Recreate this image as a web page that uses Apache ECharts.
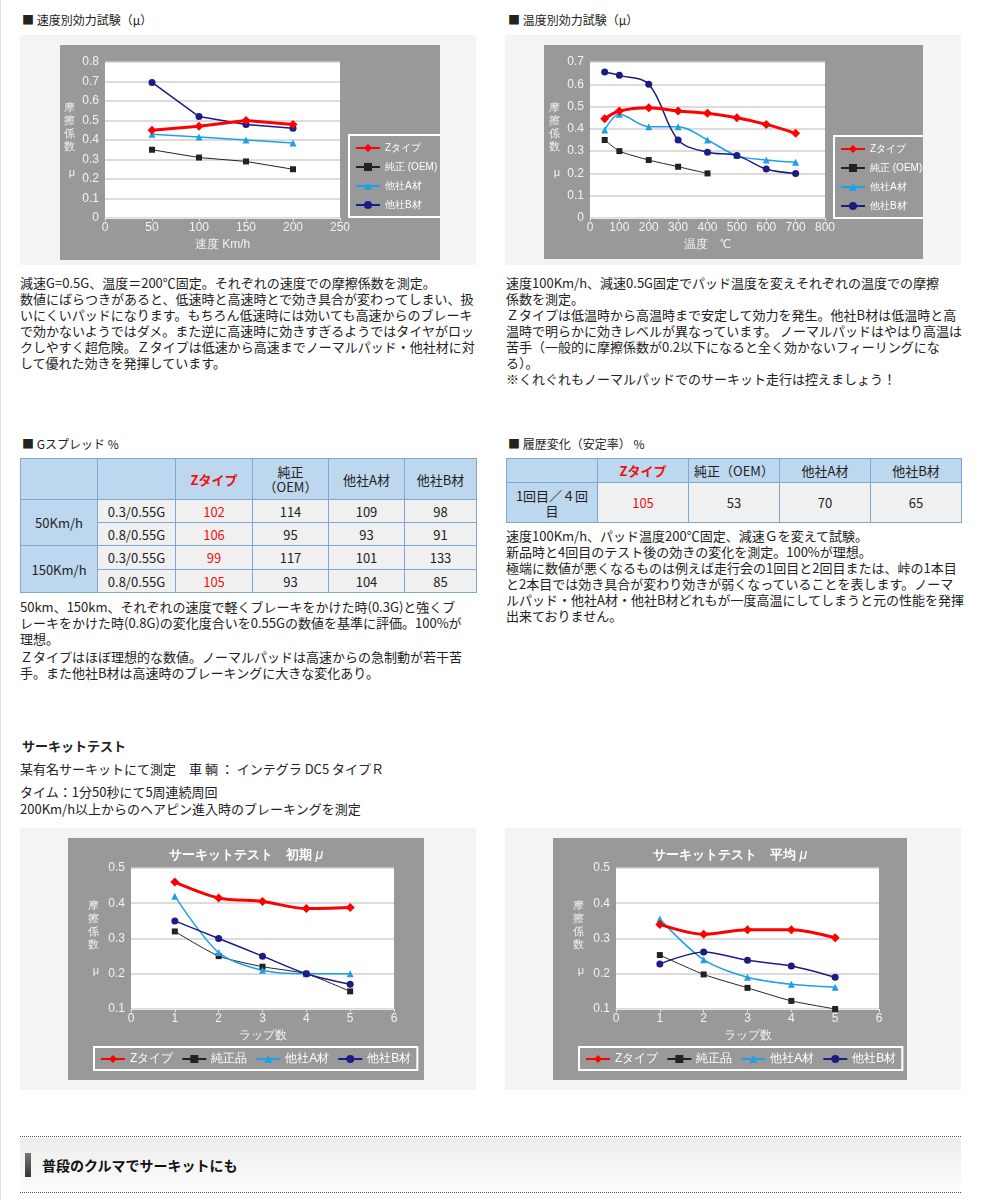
<!DOCTYPE html>
<html>
<head>
<meta charset="utf-8">
<script src="https://cdn.jsdelivr.net/npm/echarts@6/dist/echarts.min.js"></script>
<style>
  body { margin:0; width:981px; height:1200px; background:#fff; font-family:"Noto Sans CJK JP","Noto Sans",sans-serif; font-size:13px; color:#222; position:relative; overflow:hidden; }
  .abs { position:absolute; }
  .h { font-size:12px; line-height:14px; }
  .panel { background:#f4f4f4; }
  .txt { font-size:13px; line-height:16px; white-space:nowrap; }
  .chart { position:absolute; }
  table { border-collapse:collapse; position:absolute; font-size:13px; }
  td { border:1px solid #7fa7d6; text-align:center; padding:0; line-height:15px; }
  td.hd { background:#bdd7ee; }
  td.v { background:#f0f0f0; }
  .red { color:#ee1111; }
  .zt { color:#ee1111; font-weight:bold; }
</style>
</head>
<body>
<div class="abs" style="left:0;top:0;width:1px;height:1200px;background:#ddd"></div>

<div class="abs h" style="left:22px;top:13px">■ 速度別効力試験（μ）</div>
<div class="abs h" style="left:508px;top:13px">■ 温度別効力試験（μ）</div>

<div class="abs panel" style="left:20px;top:35px;width:456px;height:230px"></div>
<div class="abs panel" style="left:505px;top:35px;width:456px;height:230px"></div>
<div id="c1" class="chart" style="left:60px;top:45px;width:380px;height:215px"></div>
<div id="c2" class="chart" style="left:544px;top:45px;width:379px;height:214px"></div>

<div class="abs txt" style="left:20px;top:275px">減速G=0.5G、温度＝200℃固定。それぞれの速度での摩擦係数を測定。<br>数値にばらつきがあると、低速時と高速時とで効き具合が変わってしまい、扱<br>いにくいパッドになります。もちろん低速時には効いても高速からのブレーキ<br>で効かないようではダメ。また逆に高速時に効きすぎるようではタイヤがロッ<br>クしやすく超危険。Ｚタイプは低速から高速までノーマルパッド・他社材に対<br>して優れた効きを発揮しています。</div>
<div class="abs txt" style="left:506px;top:275px">速度100Km/h、減速0.5G固定でパッド温度を変えそれぞれの温度での摩擦<br>係数を測定。<br>Ｚタイプは低温時から高温時まで安定して効力を発生。他社B材は低温時と高<br>温時で明らかに効きレベルが異なっています。 ノーマルパッドはやはり高温は<br>苦手（一般的に摩擦係数が0.2以下になると全く効かないフィーリングにな<br>る）。<br>※くれぐれもノーマルパッドでのサーキット走行は控えましょう！</div>

<div class="abs h" style="left:22px;top:437px">■ Gスプレッド %</div>
<div class="abs h" style="left:508px;top:437px">■ 履歴変化（安定率） %</div>

<table style="left:20px;top:458px;width:457px">
  <tr style="height:41px"><td class="hd" style="width:76px"></td><td class="hd" style="width:77px"></td><td class="hd zt" style="width:76px">Zタイプ</td><td class="hd" style="width:75px">純正<br>（OEM）</td><td class="hd" style="width:75px">他社A材</td><td class="hd">他社B材</td></tr>
  <tr style="height:23px"><td class="hd" rowspan="2">50Km/h</td><td class="v">0.3/0.55G</td><td class="v red">102</td><td class="v">114</td><td class="v">109</td><td class="v">98</td></tr>
  <tr style="height:23px"><td class="v">0.8/0.55G</td><td class="v red">106</td><td class="v">95</td><td class="v">93</td><td class="v">91</td></tr>
  <tr style="height:24px"><td class="hd" rowspan="2">150Km/h</td><td class="v">0.3/0.55G</td><td class="v red">99</td><td class="v">117</td><td class="v">101</td><td class="v">133</td></tr>
  <tr style="height:23px"><td class="v">0.8/0.55G</td><td class="v red">105</td><td class="v">93</td><td class="v">104</td><td class="v">85</td></tr>
</table>

<table style="left:506px;top:458px;width:456px">
  <tr style="height:24px"><td class="hd" style="width:90px"></td><td class="hd zt" style="width:90px">Zタイプ</td><td class="hd" style="width:90px">純正（OEM）</td><td class="hd" style="width:90px">他社A材</td><td class="hd">他社B材</td></tr>
  <tr style="height:40px"><td class="hd">1回目／４回<br>目</td><td class="v red">105</td><td class="v">53</td><td class="v">70</td><td class="v">65</td></tr>
</table>

<div class="abs txt" style="left:20px;top:599px">50km、150km、それぞれの速度で軽くブレーキをかけた時(0.3G)と強くブ<br>レーキをかけた時(0.8G)の変化度合いを0.55Gの数値を基準に評価。100%が<br>理想。<br><span style="display:inline-block;margin-top:2px">Ｚタイプはほぼ理想的な数値。ノーマルパッドは高速からの急制動が若干苦</span><br>手。また他社B材は高速時のブレーキングに大きな変化あり。</div>
<div class="abs txt" style="left:506px;top:528px">速度100Km/h、パッド温度200℃固定、減速Ｇを変えて試験。<br>新品時と4回目のテスト後の効きの変化を測定。100%が理想。<br>極端に数値が悪くなるものは例えば走行会の1回目と2回目または、峠の1本目<br>と2本目では効き具合が変わり効きが弱くなっていることを表します。ノーマ<br>ルパッド・他社A材・他社B材どれもが一度高温にしてしまうと元の性能を発揮<br>出来ておりません。</div>

<div class="abs" style="left:22px;top:736px;font-weight:bold;font-size:13px">サーキットテスト</div>
<div class="abs" style="left:20px;top:759px">某有名サーキットにて測定　車 輌 ： インテグラ DC5 タイプＲ</div>
<div class="abs" style="left:20px;top:783px;line-height:17px">タイム：1分50秒にて5周連続周回<br>200Km/h以上からのヘアピン進入時のブレーキングを測定</div>

<div class="abs panel" style="left:20px;top:828px;width:456px;height:262px"></div>
<div class="abs panel" style="left:505px;top:828px;width:456px;height:262px"></div>
<div id="c3" class="chart" style="left:68px;top:838px;width:356px;height:242px"></div>
<div id="c4" class="chart" style="left:553px;top:838px;width:354px;height:242px"></div>

<div class="abs" style="left:20px;top:1136px;width:941px;border-top:1px dotted #555"></div>
<div class="abs" style="left:20px;top:1138px;width:941px;height:54px;background:linear-gradient(#ececec,#fdfdfd)"></div>
<div class="abs" style="left:20px;top:1192px;width:941px;border-top:1px dotted #555"></div>
<div class="abs" style="left:25px;top:1153px;width:6px;height:24px;background:linear-gradient(#777,#333)"></div>
<div class="abs" style="left:42px;top:1155px;font-weight:bold;font-size:14px;color:#111">普段のクルマでサーキットにも</div>

<script>
// 速度別効力試験
var speeds = [50, 100, 150, 200];
var speedZ = [0.45, 0.47, 0.50, 0.48];
var speedOEM = [0.35, 0.31, 0.29, 0.25];
var speedA = [0.43, 0.415, 0.40, 0.385];
var speedB = [0.695, 0.52, 0.48, 0.46];

// 温度別効力試験
var temps = [50, 100, 200, 300, 400, 500, 600, 700];
var tempZ = [0.445, 0.48, 0.495, 0.48, 0.47, 0.45, 0.42, 0.38];
var tempOEM = [0.35, 0.30, 0.26, 0.23, 0.20];
var tempA = [0.395, 0.465, 0.41, 0.41, 0.35, 0.28, 0.26, 0.25];
var tempB = [0.655, 0.64, 0.60, 0.35, 0.295, 0.28, 0.22, 0.20];

// サーキットテスト
var laps = [1, 2, 3, 4, 5];
var initZ = [0.46, 0.415, 0.405, 0.385, 0.388];
var initOEM = [0.32, 0.25, 0.22, 0.20, 0.15];
var initA = [0.42, 0.26, 0.21, 0.20, 0.20];
var initB = [0.35, 0.30, 0.25, 0.20, 0.17];
var avgZ = [0.34, 0.312, 0.325, 0.325, 0.302];
var avgOEM = [0.253, 0.198, 0.16, 0.123, 0.10];
var avgA = [0.355, 0.24, 0.19, 0.17, 0.162];
var avgB = [0.228, 0.262, 0.238, 0.222, 0.19];

var names1 = ['Zタイプ', '純正 (OEM)', '他社A材', '他社B材'];
var names2 = ['Zタイプ', '純正品', '他社A材', '他社B材'];

var GRAY = '#999999';
var LBL = '#f2f2f2';

function pairs(xs, ys) {
    return ys.map(function(y, i){ return [xs[i], y]; });
}

function makeSeries(names, xs, z, oem, a, b, smooth) {
    return [
        { name:names[0], type:'line', data:pairs(xs, z), smooth:smooth, symbol:'diamond', symbolSize:9,
          itemStyle:{color:'#ff0000'}, lineStyle:{color:'#ff0000', width:3}, z:5 },
        { name:names[1], type:'line', data:pairs(xs, oem), smooth:smooth ? 0.2 : false, symbol:'rect', symbolSize:6,
          itemStyle:{color:'#222'}, lineStyle:{color:'#222', width:1} },
        { name:names[2], type:'line', data:pairs(xs, a), smooth:smooth, symbol:'triangle', symbolSize:7,
          itemStyle:{color:'#1ea0e6'}, lineStyle:{color:'#1ea0e6', width:1.5} },
        { name:names[3], type:'line', data:pairs(xs, b), smooth:smooth, symbol:'circle', symbolSize:7,
          itemStyle:{color:'#1c1c84'}, lineStyle:{color:'#1c1c84', width:1.5} }
    ];
}

function yAxis(min, max, gap) {
    return {
        type:'value', min:min, max:max, interval:0.1,
        name:'摩\n擦\n係\n数\n\nμ', nameLocation:'middle', nameRotate:0, nameGap:gap,
        nameTextStyle:{color:LBL, fontSize:11, lineHeight:13},
        axisLine:{show:false}, axisTick:{show:false},
        axisLabel:{color:LBL, fontSize:12, margin:6},
        splitLine:{lineStyle:{color:'#d0d0d0', width:1.5}}
    };
}

function xAxis(min, max, interval, name) {
    return {
        type:'value', min:min, max:max, interval:interval,
        name:name, nameLocation:'middle', nameGap:20,
        nameTextStyle:{color:LBL, fontSize:12},
        axisLine:{show:true, lineStyle:{color:'#e8e8e8'}},
        axisTick:{show:true, length:3, lineStyle:{color:'#e8e8e8'}},
        axisLabel:{color:LBL, fontSize:12, margin:4},
        splitLine:{show:false}
    };
}

function sideLegend(left, top) {
    return {
        orient:'vertical', left:left, top:top,
        borderColor:'#fff', borderWidth:2, padding:[8, 4, 7, 6], itemGap:9,
        itemWidth:24, itemHeight:10,
        textStyle:{color:'#fff', fontSize:10}
    };
}

function bottomLegend() {
    return {
        orient:'horizontal', left:26, top:209,
        borderColor:'#fff', borderWidth:2, padding:[6, 6, 5, 6], itemGap:8,
        itemWidth:24, itemHeight:10,
        textStyle:{color:'#fff', fontSize:12}
    };
}

var c1 = echarts.init(document.getElementById('c1'));
c1.setOption({
    backgroundColor:GRAY, animation:false,
    grid:{left:45, top:17, width:235, height:156, show:true, backgroundColor:'#fff', borderWidth:0},
    xAxis:xAxis(0, 250, 50, '速度 Km/h'),
    yAxis:yAxis(0, 0.8, 30),
    legend:sideLegend(289, 90),
    series:makeSeries(names1, speeds, speedZ, speedOEM, speedA, speedB, false)
});

var c2 = echarts.init(document.getElementById('c2'));
c2.setOption({
    backgroundColor:GRAY, animation:false,
    grid:{left:46, top:17, width:235, height:156, show:true, backgroundColor:'#fff', borderWidth:0},
    xAxis:xAxis(0, 800, 100, '温度　℃'),
    yAxis:yAxis(0, 0.7, 30),
    legend:sideLegend(290, 91),
    series:makeSeries(names1, temps, tempZ, tempOEM, tempA, tempB, 0.35)
});

function circuit(id, title, z, oem, a, b) {
    var c = echarts.init(document.getElementById(id));
    c.setOption({
        backgroundColor:GRAY, animation:false,
        title:{text:title + ' {mu|μ}', left:'center', top:5,
               textStyle:{color:'#fff', fontSize:13, fontWeight:'bold',
                          rich:{mu:{color:'#fff', fontSize:14, fontStyle:'italic', fontWeight:'normal'}}}},
        grid:{left:63, top:30, width:263, height:141, show:true, backgroundColor:'#fff', borderWidth:0},
        xAxis:xAxis(0, 6, 1, 'ラップ数'),
        yAxis:yAxis(0.1, 0.5, 32),
        legend:bottomLegend(),
        series:makeSeries(names2, laps, z, oem, a, b, 0.3)
    });
    return c;
}
var c3 = circuit('c3', 'サーキットテスト　初期', initZ, initOEM, initA, initB);
var c4 = circuit('c4', 'サーキットテスト　平均', avgZ, avgOEM, avgA, avgB);
</script>
</body>
</html>
